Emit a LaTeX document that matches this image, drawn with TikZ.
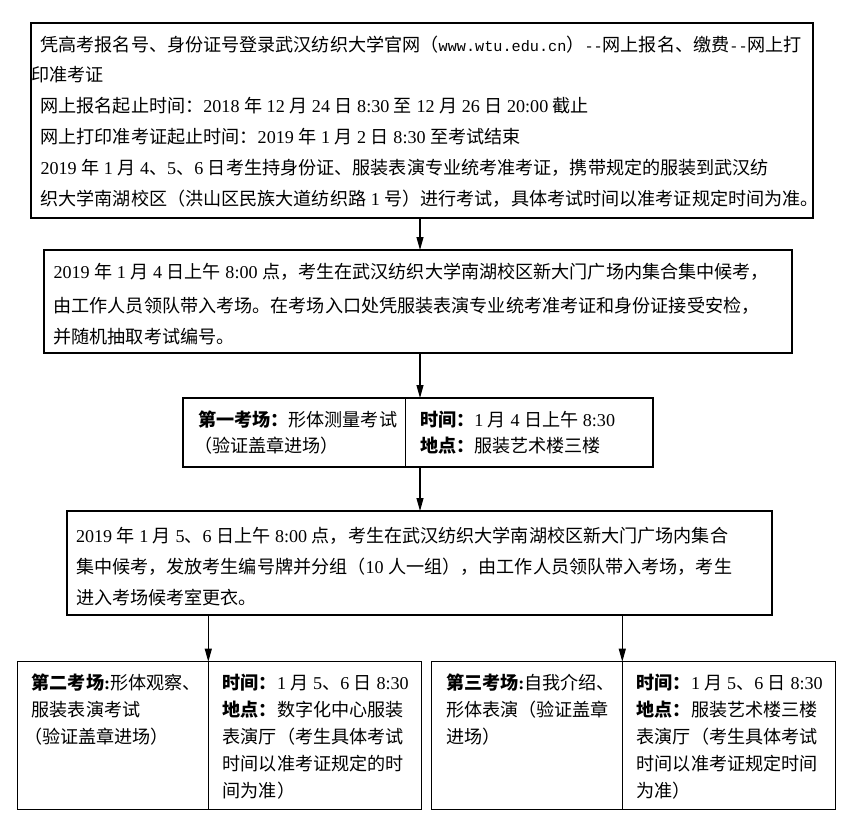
\documentclass[tikz,border=0pt]{standalone}
\usepackage{fontspec}
\newfontfamily\cjk{Noto Sans CJK SC}
\newfontfamily\enf{Liberation Serif}
\newfontfamily\monof{Liberation Mono}
\usetikzlibrary{arrows.meta}
\newcommand\en[1]{{\enf #1}}
\newcommand\mono[1]{{\monof\fontsize{15.2}{22}\selectfont #1}}
\newcommand\putline[4]{\node[txt] (#1) at (#2,#3) {#4};}
\begin{document}
\begin{tikzpicture}[x=1pt,y=-1pt,
  box/.style={draw, line width=1.1pt, rectangle, inner sep=0pt, outer sep=0pt, anchor=north west},
  txt/.style={anchor=base west, inner sep=0pt, outer sep=0pt, font=\cjk\fontsize{18.1}{22}\selectfont},
  arr/.style={line width=1.1pt, -{Triangle[length=13pt,width=7pt]}}]
\useasboundingbox[fill=white] (0,0) rectangle (849,819);
% boxes
\node[box, minimum width=782pt, minimum height=195pt] (b1) at (31,23) {};
\node[box, minimum width=748pt, minimum height=103pt] (b2) at (44,250) {};
\node[box, minimum width=222.5pt, minimum height=69pt] (b3l) at (183,398) {};
\node[box, minimum width=247.5pt, minimum height=69pt] (b3r) at (405.5,398) {};
\node[box, minimum width=705pt, minimum height=104pt] (b4) at (67,511) {};
\node[box, minimum width=191pt, minimum height=147.6pt] (b5l) at (17.3,661.7) {};
\node[box, minimum width=213.4pt, minimum height=147.6pt] (b5r) at (208.3,661.7) {};
\node[box, minimum width=190.6pt, minimum height=147.6pt] (b6l) at (431.7,661.7) {};
\node[box, minimum width=213.4pt, minimum height=147.6pt] (b6r) at (622.3,661.7) {};
% arrows
\coordinate (ax) at (420,0);
\draw[arr] (b1.south -| ax) -- (b2.north -| ax);
\draw[arr] (b2.south -| ax) -- (b3r.north west -| ax);
\draw[arr] (b3r.south west -| ax) -- (b4.north -| ax);
\draw[arr] (b4.south -| b5l.north east) -- (b5l.north east);
\draw[arr] (b4.south -| b6l.north east) -- (b6l.north east);
% box 1
\putline{t1a}{40.5}{51}{凭高考报名号、身份证号登录武汉纺织大学官网（\mono{www.wtu.edu.cn}）\mono{--}网上报名、缴费\mono{--}网上打}
\putline{t1b}{31.5}{81.8}{印准考证}
\putline{t1c}{40.5}{112.6}{网上报名起止时间：\en{2018 }年\en{ 12 }月\en{ 24 }日\en{ 8:30 }至\en{ 12 }月\en{ 26 }日\en{ 20:00 }截止}
\putline{t1d}{40.5}{143.4}{网上打印准考证起止时间：\en{2019 }年\en{ 1 }月\en{ 2 }日\en{ 8:30 }至考试结束}
\putline{t1e}{40.5}{174.2}{\en{2019 }年\en{ 1 }月\en{ 4}、\en{5}、\en{6 }日考生持身份证、服装表演专业统考准考证，携带规定的服装到武汉纺}
\putline{t1f}{40.5}{205}{织大学南湖校区（洪山区民族大道纺织路\en{ 1 }号）进行考试，具体考试时间以准考证规定时间为准。}
% box 2
\putline{t2a}{53.5}{278.7}{\en{2019 }年\en{ 1 }月\en{ 4 }日上午\en{ 8:00 }点，考生在武汉纺织大学南湖校区新大门广场内集合集中候考，}
\putline{t2b}{53.5}{312}{由工作人员领队带入考场。在考场入口处凭服装表演专业统考准考证和身份证接受安检，}
\putline{t2c}{53.5}{343.7}{并随机抽取考试编号。}
% box 3
\putline{t3a}{198}{426.3}{{\bfseries 第一考场：}形体测量考试}
\putline{t3b}{194}{452}{（验证盖章进场）}
\putline{t3c}{420}{426.3}{{\bfseries 时间：}\en{1 }月\en{ 4 }日上午\en{ 8:30}}
\putline{t3d}{420}{452}{{\bfseries 地点：}服装艺术楼三楼}
% box 4
\putline{t4a}{76}{542}{\en{2019 }年\en{ 1 }月\en{ 5}、\en{6 }日上午\en{ 8:00 }点，考生在武汉纺织大学南湖校区新大门广场内集合}
\putline{t4b}{76}{573.7}{集中候考，发放考生编号牌并分组（\en{10 }人一组），由工作人员领队带入考场，考生}
\putline{t4c}{76}{604.3}{进入考场候考室更衣。}
% box 5
\putline{t5a}{31.7}{689.7}{{\bfseries 第二考场\en{:}}形体观察、}
\putline{t5b}{31.7}{716.5}{服装表演考试}
\putline{t5c}{24}{743.3}{（验证盖章进场）}
\putline{t5d}{222.7}{689.7}{{\bfseries 时间：}\en{1 }月\en{ 5}、\en{6 }日\en{ 8:30}}
\putline{t5e}{222.7}{716.5}{{\bfseries 地点：}数字化中心服装}
\putline{t5f}{222.7}{743.3}{表演厅（考生具体考试}
\putline{t5g}{222.7}{770.1}{时间以准考证规定的时}
\putline{t5h}{222.7}{797}{间为准）}
% box 6
\putline{t6a}{446}{689.7}{{\bfseries 第三考场\en{:}}自我介绍、}
\putline{t6b}{446}{716.5}{形体表演（验证盖章}
\putline{t6c}{446}{743.3}{进场）}
\putline{t6d}{636.7}{689.7}{{\bfseries 时间：}\en{1 }月\en{ 5}、\en{6 }日\en{ 8:30}}
\putline{t6e}{636.7}{716.5}{{\bfseries 地点：}服装艺术楼三楼}
\putline{t6f}{636.7}{743.3}{表演厅（考生具体考试}
\putline{t6g}{636.7}{770.1}{时间以准考证规定时间}
\putline{t6h}{636.7}{797}{为准）}
\end{tikzpicture}
\end{document}
